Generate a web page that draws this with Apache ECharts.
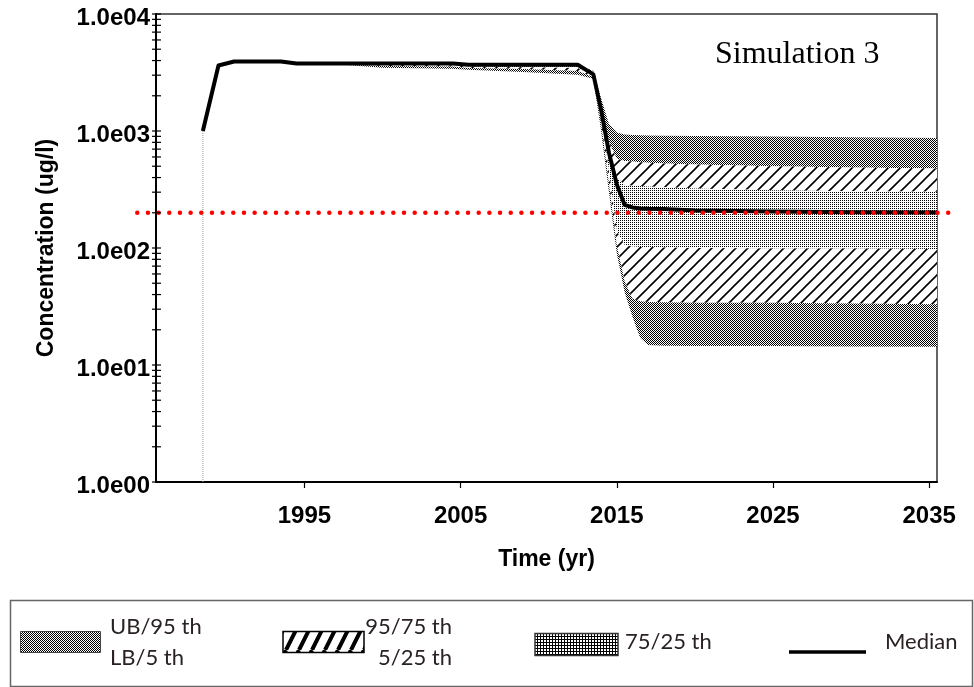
<!DOCTYPE html>
<html>
<head>
<meta charset="utf-8">
<title>Simulation 3</title>
<script src="https://cdn.jsdelivr.net/npm/echarts@6/dist/echarts.min.js"></script>
<style>
  html, body { margin: 0; padding: 0; background: #fff; }
  #chart { width: 974px; height: 687px; }
</style>
</head>
<body>
<div id="chart"></div>
<script>
// time steps (yr) and the concentration percentiles (ug/l)
const years  = [1988.5, 1989.5, 1990.5, 1993.5, 1994.5, 1996.5, 2000, 2004.5, 2005.5, 2009, 2012.5, 2013.5, 2014, 2014.5, 2015, 2015.5, 2016, 2016.5, 2017, 2018, 2020, 2025, 2030, 2035.5];
const median = [1000, 3630, 3930, 3930, 3780, 3780, 3780, 3780, 3680, 3680, 3680, 3050, 1500, 650, 350, 234, 222, 218, 216, 215, 209, 205, 202, 201];
const ub     = [1000, 3630, 3930, 3930, 3780, 3780, 3780, 3780, 3680, 3680, 3700, 3250, 1900, 1150, 970, 935, 925, 920, 915, 910, 905, 898, 885, 872];
const p95    = [1000, 3630, 3930, 3930, 3780, 3780, 3780, 3780, 3680, 3680, 3680, 3100, 1600, 800, 580, 555, 548, 540, 535, 528, 518, 500, 488, 478];
const p75    = [1000, 3630, 3930, 3930, 3780, 3780, 3780, 3780, 3680, 3680, 3680, 3050, 1500, 700, 400, 345, 340, 338, 335, 330, 322, 312, 306, 303];
const p25    = [1000, 3630, 3930, 3930, 3780, 3780, 3700, 3650, 3560, 3500, 3450, 2950, 1350, 450, 140, 106, 103, 102, 102, 101, 100, 99, 99, 98];
const p5     = [1000, 3630, 3930, 3930, 3780, 3780, 3600, 3550, 3450, 3380, 3250, 2900, 1150, 350, 105, 52, 37, 35, 34.5, 34.3, 34, 34, 33.5, 33];
const lb     = [1000, 3630, 3930, 3930, 3780, 3780, 3480, 3400, 3330, 3200, 3020, 2800, 1000, 300, 90, 42, 26, 17, 14.8, 14.6, 14.5, 14.5, 14.4, 14.3];

// red dotted standard line
const threshold = 200;
const thresholdSpan = [1984.3, 2036.3];

const xRange = [1985.5, 2035.5];
const xTicks = [1995, 2005, 2015, 2025, 2035];
const yTickLabels = ["1.0e00", "1.0e01", "1.0e02", "1.0e03", "1.0e04"];

const AXIS_FONT = '"Liberation Sans", Arial, sans-serif';
const LEGEND_FONT = 'Lato, "Open Sans", sans-serif';

// log ticks: 1..9 per decade
const yTickValues = [];
for (let e = 0; e < yTickLabels.length - 1; e++) {
  for (let m = 1; m < 10; m++) yTickValues.push(m * Math.pow(10, e));
}
yTickValues.push(Math.pow(10, yTickLabels.length - 1));

function pattern(w, h, draw) {
  const c = document.createElement("canvas");
  c.width = w; c.height = h;
  const ctx = c.getContext("2d");
  ctx.fillStyle = "#fff";
  ctx.fillRect(0, 0, w, h);
  ctx.fillStyle = "#000";
  ctx.strokeStyle = "#000";
  draw(ctx);
  return { image: c, repeat: "repeat" };
}

const checker = pattern(2, 2, ctx => { ctx.fillRect(0, 0, 1, 1); ctx.fillRect(1, 1, 1, 1); });
const dots = pattern(2, 2, ctx => ctx.fillRect(0, 0, 1, 1));
const hatch = pattern(12, 12, ctx => {
  ctx.lineWidth = 1.6;
  ctx.beginPath();
  ctx.moveTo(-1, 13); ctx.lineTo(13, -1);
  ctx.moveTo(-1, 1); ctx.lineTo(1, -1);
  ctx.moveTo(11, 13); ctx.lineTo(13, 11);
  ctx.stroke();
});
const boldHatch = pattern(13, 26, ctx => {
  ctx.lineWidth = 4;
  ctx.beginPath();
  for (const dx of [-13, 0, 13]) { ctx.moveTo(dx, 26); ctx.lineTo(dx + 13, 0); }
  ctx.stroke();
});
const gridDots = pattern(3, 3, ctx => {
  ctx.fillRect(0, 0, 3, 3);
  ctx.fillStyle = "#fff";
  ctx.fillRect(1, 1, 2, 2);
});

const bands = [
  { hi: ub,  lo: p95, fill: checker },
  { hi: p95, lo: p75, fill: hatch },
  { hi: p75, lo: p25, fill: dots },
  { hi: p25, lo: p5,  fill: hatch },
  { hi: p5,  lo: lb,  fill: checker },
];

const bandSeries = bands.map(b => ({
  type: "custom",
  silent: true,
  clip: true,
  z: 2,
  data: [[years[0], median[0]]],
  renderItem: (params, api) => {
    const pts = years.map((t, i) => api.coord([t, b.hi[i]]));
    for (let i = years.length - 1; i >= 0; i--) pts.push(api.coord([years[i], b.lo[i]]));
    return { type: "polygon", shape: { points: pts }, style: { fill: b.fill, stroke: null } };
  },
}));

const chart = echarts.init(document.getElementById("chart"), null, { renderer: "canvas" });

chart.setOption({
  animation: false,
  backgroundColor: "#fff",
  grid: {
    left: 156, right: 37, top: 14, bottom: 205,
    show: true, borderColor: "#333", borderWidth: 1.5, backgroundColor: "transparent",
  },
  xAxis: {
    type: "value",
    min: xRange[0], max: xRange[1],
    name: "Time (yr)", nameLocation: "middle", nameGap: 66,
    nameTextStyle: { fontFamily: AXIS_FONT, fontWeight: "bold", fontSize: 23, color: "#000" },
    axisLine: { lineStyle: { color: "#000", width: 2 } },
    axisTick: { customValues: xTicks, length: 6, lineStyle: { color: "#000", width: 1.2 } },
    axisLabel: {
      customValues: xTicks, margin: 22, fontFamily: AXIS_FONT, fontWeight: "bold", fontSize: 24, color: "#000",
      formatter: v => String(v),
    },
    splitLine: { show: false },
  },
  yAxis: {
    type: "log", logBase: 10, min: 1, max: 10000,
    name: "Concentration (ug/l)", nameLocation: "middle", nameGap: 98, nameRotate: 90,
    nameTextStyle: { fontFamily: AXIS_FONT, fontWeight: "bold", fontSize: 23, color: "#000" },
    axisLine: { show: true, lineStyle: { color: "#000", width: 2 } },
    axisTick: { show: false },
    axisLabel: {
      margin: 6,
      formatter: v => "{t|" + yTickLabels[Math.round(Math.log10(v))] + "}",
      rich: {
        t: { fontFamily: AXIS_FONT, fontWeight: "bold", fontSize: 24, color: "#000", padding: [8, 0, 0, 0] },
      },
    },
    splitLine: { show: false },
  },
  series: [
    ...bandSeries,
    {
      // drop line at the first time step
      type: "line",
      silent: true,
      symbol: "none",
      z: 3,
      data: [[years[0], 1], [years[0], median[0]]],
      lineStyle: { color: "#999", width: 1, type: "dotted" },
    },
    {
      name: "Median",
      type: "line",
      symbol: "none",
      z: 5,
      data: years.map((t, i) => [t, median[i]]),
      lineStyle: { color: "#000", width: 4, join: "round" },
    },
    {
      // standard line, runs a little past both sides of the frame
      type: "custom",
      silent: true,
      clip: false,
      z: 6,
      data: [[thresholdSpan[0], threshold]],
      renderItem: (params, api) => {
        const a = api.coord([thresholdSpan[0], threshold]);
        const b = api.coord([thresholdSpan[1], threshold]);
        return {
          type: "line",
          shape: { x1: a[0], y1: a[1], x2: b[0], y2: b[1] },
          style: { stroke: "#ff0000", lineWidth: 4.5, lineDash: [0.01, 10.66], lineCap: "round" },
        };
      },
    },
    {
      // y-axis ticks (log minor ticks 2..9 included)
      type: "custom",
      silent: true,
      clip: false,
      z: 6,
      data: yTickValues.map(v => [xRange[0], v]),
      renderItem: (params, api) => {
        const p = api.coord([api.value(0), api.value(1)]);
        return {
          type: "line",
          shape: { x1: p[0] - 4, y1: p[1], x2: p[0] + 5, y2: p[1] },
          style: { stroke: "#000", lineWidth: 1.2 },
        };
      },
    },
  ],
  graphic: [
    {
      type: "text", x: 715, y: 55,
      style: {
        text: "Simulation 3", fill: "#000",
        font: '32px "Liberation Serif", "Times New Roman", serif',
        align: "left", textAlign: "left", verticalAlign: "middle", textVerticalAlign: "middle",
      },
    },
    // legend box
    {
      type: "rect", shape: { x: 10.5, y: 600.5, width: 962, height: 86 },
      style: { fill: "#fff", stroke: "#666", lineWidth: 1.5 },
    },
    {
      type: "rect", shape: { x: 20.5, y: 631.5, width: 80, height: 21 },
      style: { fill: checker, stroke: "#444", lineWidth: 1 },
    },
    {
      type: "text", x: 110, y: 627,
      style: { text: "UB/95 th", fill: "#2a2222", font: "22px " + LEGEND_FONT, verticalAlign: "middle", textVerticalAlign: "middle" },
    },
    {
      type: "text", x: 110, y: 658,
      style: { text: "LB/5 th", fill: "#2a2222", font: "22px " + LEGEND_FONT, verticalAlign: "middle", textVerticalAlign: "middle" },
    },
    {
      type: "rect", shape: { x: 283, y: 631.5, width: 81, height: 21 },
      style: { fill: boldHatch, stroke: "#000", lineWidth: 1.5 },
    },
    {
      type: "text", x: 452, y: 627,
      style: { text: "95/75 th", fill: "#2a2222", font: "22px " + LEGEND_FONT, align: "right", textAlign: "right", verticalAlign: "middle", textVerticalAlign: "middle" },
    },
    {
      type: "text", x: 452, y: 658,
      style: { text: "5/25 th", fill: "#2a2222", font: "22px " + LEGEND_FONT, align: "right", textAlign: "right", verticalAlign: "middle", textVerticalAlign: "middle" },
    },
    {
      type: "rect", shape: { x: 535, y: 633.5, width: 83, height: 22 },
      style: { fill: gridDots, stroke: "#333", lineWidth: 1.5 },
    },
    {
      type: "text", x: 625, y: 642,
      style: { text: "75/25 th", fill: "#2a2222", font: "22px " + LEGEND_FONT, verticalAlign: "middle", textVerticalAlign: "middle" },
    },
    {
      type: "line", shape: { x1: 789, y1: 652, x2: 866, y2: 652 },
      style: { stroke: "#000", lineWidth: 3.5 },
    },
    {
      type: "text", x: 885, y: 642,
      style: { text: "Median", fill: "#2a2222", font: "22px " + LEGEND_FONT, verticalAlign: "middle", textVerticalAlign: "middle" },
    },
  ],
});

window.addEventListener("resize", () => chart.resize());
</script>
</body>
</html>
